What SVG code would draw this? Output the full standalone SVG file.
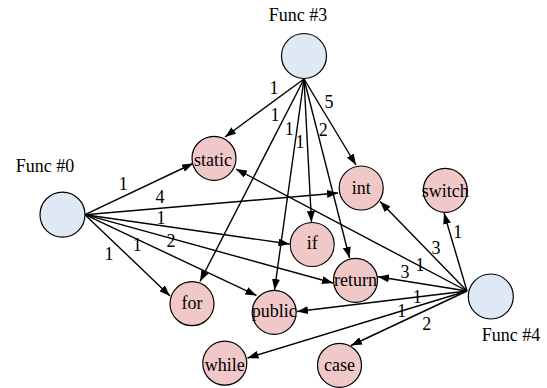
<svg xmlns="http://www.w3.org/2000/svg" width="547" height="388" viewBox="0 0 547 388" font-family="'Liberation Serif', 'Times New Roman', Times, serif" font-size="18">
<style>
.func{fill:#dee9f5;stroke:#000;stroke-width:1.2}
.kw{fill:#f0c8c8;stroke:#000;stroke-width:1.2}
text{font-family:'Liberation Serif','Times New Roman',Times,serif;font-size:18px;fill:#000}
.c{text-anchor:middle}
.e line{stroke:#000;stroke-width:1.4;marker-end:url(#ah)}
</style>
<defs>
<marker id="ah" markerUnits="userSpaceOnUse" markerWidth="11" markerHeight="8" refX="11" refY="4" orient="auto">
<path d="M0,0 L11,4 L0,8 z" fill="#000"/>
</marker>
</defs>
<rect width="547" height="388" fill="#fff"/>
<g id="connectors" class="e">
<line x1="304" y1="79" x2="225" y2="137"/>
<line x1="304" y1="79" x2="356" y2="165"/>
<line x1="304" y1="79" x2="200" y2="281.5"/>
<line x1="304" y1="79" x2="274.5" y2="290"/>
<line x1="304" y1="79" x2="311.5" y2="222"/>
<line x1="304" y1="79" x2="349.5" y2="258"/>
<line x1="85" y1="214.7" x2="193" y2="163.5"/>
<line x1="85" y1="214.7" x2="338" y2="193"/>
<line x1="85" y1="214.7" x2="289.5" y2="244"/>
<line x1="85" y1="214.7" x2="333" y2="283"/>
<line x1="85" y1="214.7" x2="170" y2="296"/>
<line x1="85" y1="214.7" x2="256.5" y2="295.5"/>
<line x1="467" y1="291" x2="236" y2="169"/>
<line x1="467" y1="291" x2="380" y2="201.5"/>
<line x1="467" y1="291" x2="444" y2="213"/>
<line x1="467" y1="291" x2="378" y2="276.7"/>
<line x1="467" y1="291" x2="297" y2="311.5"/>
<line x1="467" y1="291" x2="247.5" y2="358"/>
<line x1="467" y1="291" x2="351" y2="345.5"/>
</g>
<g id="edge-labels">
<text class="c" x="274" y="94.3">1</text>
<text class="c" x="329" y="108.3">5</text>
<text class="c" x="275" y="120.7">1</text>
<text class="c" x="289.3" y="135">1</text>
<text class="c" x="300" y="148.3">1</text>
<text class="c" x="323.3" y="136">2</text>
<text class="c" x="123.3" y="190">1</text>
<text class="c" x="160" y="203">4</text>
<text class="c" x="161" y="224">1</text>
<text class="c" x="171" y="246.7">2</text>
<text class="c" x="137.3" y="251.3">1</text>
<text class="c" x="109" y="259.7">1</text>
<text class="c" x="457.7" y="238">1</text>
<text class="c" x="436" y="254">3</text>
<text class="c" x="420" y="270.7">1</text>
<text class="c" x="405" y="278">3</text>
<text class="c" x="417.3" y="303.3">1</text>
<text class="c" x="401.7" y="317.3">1</text>
<text class="c" x="426.7" y="330">2</text>
</g>
<g id="func3"><circle class="func" cx="304" cy="56" r="22.5"/><text class="c" x="298" y="21">Func #3</text></g>
<g id="func0"><circle class="func" cx="62.5" cy="214.7" r="22.5"/><text class="c" x="45" y="171.5">Func #0</text></g>
<g id="func4"><circle class="func" cx="490.8" cy="296.5" r="22.5"/><text class="c" x="511" y="340.5">Func #4</text></g>
<g id="static"><circle class="kw" cx="214" cy="158.3" r="22"/><text class="c" x="213" y="165.7">static</text></g>
<g id="int"><circle class="kw" cx="361.2" cy="188" r="22"/><text class="c" x="361.2" y="194">int</text></g>
<g id="switch"><circle class="kw" cx="445.3" cy="190.3" r="22"/><text class="c" x="445.3" y="196.5">switch</text></g>
<g id="if"><circle class="kw" cx="312.2" cy="244.5" r="22"/><text class="c" x="312.2" y="249">if</text></g>
<g id="return"><circle class="kw" cx="355.5" cy="280.3" r="22"/><text class="c" x="355.5" y="286">return</text></g>
<g id="for"><circle class="kw" cx="192" cy="303.7" r="22"/><text class="c" x="192" y="309">for</text></g>
<g id="public"><circle class="kw" cx="274.2" cy="312.3" r="22"/><text class="c" x="274.2" y="317">public</text></g>
<g id="while"><circle class="kw" cx="224.8" cy="363.2" r="22"/><text class="c" x="224.8" y="370.7">while</text></g>
<g id="case"><circle class="kw" cx="339.5" cy="365.3" r="22"/><text class="c" x="339.5" y="371.3">case</text></g>
</svg>
